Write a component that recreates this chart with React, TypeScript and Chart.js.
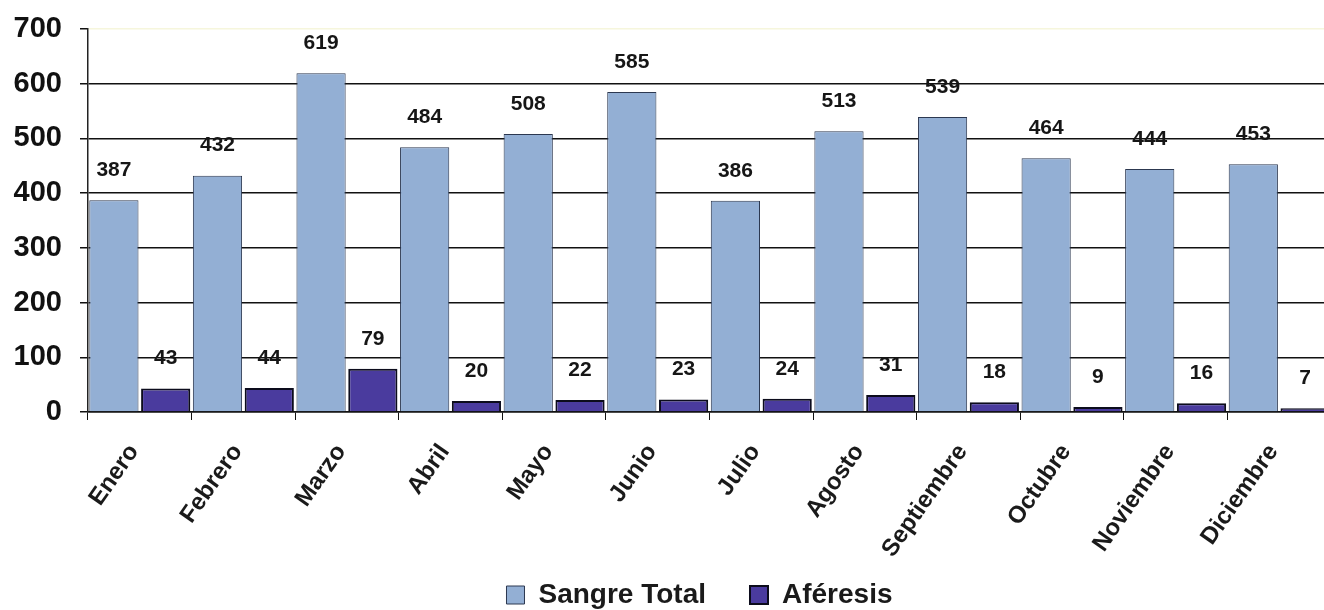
import React, { useEffect, useRef } from "react";
import { Chart, registerables } from "chart.js";

Chart.register(...registerables);

const months = [
  "Enero", "Febrero", "Marzo", "Abril", "Mayo", "Junio",
  "Julio", "Agosto", "Septiembre", "Octubre", "Noviembre", "Diciembre",
];
const sangreTotal = [387, 432, 619, 484, 508, 585, 386, 513, 539, 464, 444, 453];
const aferesis = [43, 44, 79, 20, 22, 23, 24, 31, 18, 9, 16, 7];
const seriesNames = ["Sangre Total", "Aféresis"];
const yMin = 0;
const yMax = 700;
const yStep = 100;

const FONT = "'Liberation Sans', Arial, sans-serif";
const W = 1331;
const H = 653;

export default function App() {
  const ref = useRef<HTMLCanvasElement | null>(null);

  useEffect(() => {
    if (!ref.current) return;

    const valueLabels = {
      id: "valueLabels",
      afterDatasetsDraw(chart: any) {
        const ctx = chart.ctx;
        ctx.save();
        ctx.font = `bold 21px ${FONT}`;
        ctx.fillStyle = "#161616";
        ctx.textAlign = "center";
        ctx.textBaseline = "middle";
        chart.data.datasets.forEach((ds: any, di: number) => {
          const meta = chart.getDatasetMeta(di);
          meta.data.forEach((el: any, i: number) => {
            ctx.fillText(String(ds.data[i]), el.x, el.y - 30);
          });
        });
        ctx.restore();
      },
    };

    const shiftLegend = {
      id: "shiftLegend",
      afterLayout(chart: any) {
        const lg = chart.legend;
        if (lg) {
          lg.left += 34;
          lg.right += 34;
          lg.top -= 34;
          lg.bottom -= 34;
        }
      },
    };

    const chart = new Chart(ref.current, {
      type: "bar",
      data: {
        labels: months,
        datasets: [
          {
            label: seriesNames[0],
            data: sangreTotal,
            backgroundColor: "#93afd4",
            borderColor: "#2c3850",
            borderWidth: 1,
            barPercentage: 0.95,
            categoryPercentage: 1.0,
          },
          {
            label: seriesNames[1],
            data: aferesis,
            backgroundColor: "#4a3b9e",
            borderColor: "#0c0c1c",
            borderWidth: 2,
            barPercentage: 0.95,
            categoryPercentage: 1.0,
          },
        ],
      },
      options: {
        responsive: false,
        animation: false,
        layout: { padding: { top: 29, left: 0, right: 0, bottom: 0 } },
        plugins: {
          tooltip: { enabled: false },
          legend: {
            position: "bottom",
            labels: {
              font: { family: FONT, size: 28, weight: "bold" },
              color: "#1a1a1a",
              boxWidth: 18,
              boxHeight: 18,
              padding: 44,
            },
          },
        },
        scales: {
          x: {
            grid: {
              offset: true,
              drawOnChartArea: false,
              drawTicks: true,
              tickLength: 8,
              color: "#111",
            },
            border: { display: true, color: "#111", width: 1.5 },
            ticks: {
              minRotation: 55,
              maxRotation: 55,
              padding: 19,
              labelOffset: -6,
              color: "#1a1a1a",
              font: { family: FONT, size: 24, weight: "bold" },
            },
            afterFit(scale: any) {
              scale.height = 159;
            },
          },
          y: {
            min: yMin,
            max: yMax,
            ticks: {
              stepSize: yStep,
              padding: 18,
              color: "#111",
              font: { family: FONT, size: 29, weight: "bold" },
            },
            grid: {
              color: (c: any) =>
                c.tick && c.tick.value === yMax ? "#f6f6dc" : "#111",
              lineWidth: 1.5,
              tickLength: 8,
              tickColor: "#111",
            },
            border: { display: true, color: "#222", width: 1.5 },
            afterFit(scale: any) {
              scale.width = 88;
              scale.paddingTop = 0;
              scale.paddingBottom = 0;
            },
          },
        },
      },
      plugins: [valueLabels, shiftLegend],
    } as any);

    return () => chart.destroy();
  }, []);

  return (
    <div
      style={{
        position: "fixed",
        left: 0,
        top: 0,
        width: W,
        height: H,
        background: "#fff",
      }}
    >
      <canvas ref={ref} width={W} height={H} style={{ width: W, height: H }} />
    </div>
  );
}
